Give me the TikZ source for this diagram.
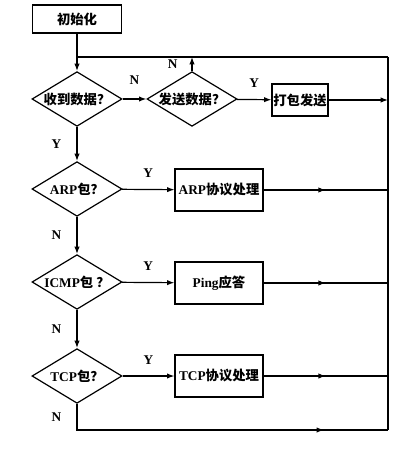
\documentclass[tikz,border=0pt]{standalone}
\usepackage{fontspec}
\setmainfont{Liberation Serif}
\newfontfamily\cjk{Noto Sans CJK SC}
\usetikzlibrary{positioning, arrows.meta, shapes.geometric, decorations.markings}

\begin{document}
\begin{tikzpicture}[
    x=0.75pt, y=-0.75pt,
    font=\bfseries,
    >={Latex[length=5.5pt, width=4pt]},
    line width=0.9pt,
    procstyle/.style={draw, rectangle, inner sep=0pt, align=center,
        minimum width=66pt, minimum height=31.5pt},
    decisionstyle/.style={draw, diamond, inner sep=0pt,
        minimum width=67.5pt, minimum height=41pt},
    flow/.style={->},
    midflow/.style={postaction={decorate}, decoration={markings,
        mark=at position #1 with {\arrow{Latex[length=5.5pt, width=4pt]}}}},
    midflow/.default=0.5,
    yn/.style={font=\bfseries}
  ]
    \useasboundingbox (0,0) rectangle (406,459);
    % main column
    \node[procstyle, minimum width=66.75pt, minimum height=21pt] (init) at (77,19) {\cjk 初始化};
    \node[decisionstyle, label=center:{\cjk 收到数据？}] (recv) at (77,99) {};
    \node[decisionstyle, label=center:{\cjk 发送数据？}] (send) at (192,99) {};
    \node[procstyle, minimum width=42pt, minimum height=24pt] (pack) at (300,100) {\cjk 打包发送};
    \node[decisionstyle, label=center:{ARP{\cjk 包？}}] (arp) at (77,189) {};
    \node[procstyle] (arpproc) at (219,190) {ARP{\cjk 协议处理}};
    \node[decisionstyle, label=center:{ICMP{\cjk 包 ？}}] (icmp) at (77,282) {};
    \node[procstyle] (ping) at (219,283) {Ping{\cjk 应答}};
    \node[decisionstyle, label=center:{TCP{\cjk 包？}}] (tcp) at (77,376) {};
    \node[procstyle] (tcpproc) at (219,376) {TCP{\cjk 协议处理}};
    % loop rail
    \coordinate (tl) at (77,57);
    \coordinate (tr) at (388,57);
    \coordinate (br) at (388,430);
    \draw (tr) -- (tl);
    \draw (tr) -- (br);
    \draw[flow] (init) -- (recv);
    \draw[flow] (recv) -- node[yn, above=7pt] {N} (send);
    \draw[flow] (send.north) -- node[yn, left=7pt] {N} (send.north |- tl);
    \draw[flow] (send) -- node[yn, above=5pt] {Y} (pack);
    \draw[flow] (pack) -- (pack -| tr);
    % packet type checks
    \draw[flow] (recv) -- node[yn, left=8pt] {Y} (arp);
    \draw[flow] (arp) -- node[yn, above=5pt] {Y} (arpproc);
    \draw[midflow] (arpproc) -- (arpproc -| tr);
    \draw[flow] (arp) -- node[yn, left=8pt] {N} (icmp);
    \draw[flow] (icmp) -- node[yn, above=5pt] {Y} (ping);
    \draw[midflow] (ping) -- (ping -| tr);
    \draw[flow] (icmp) -- node[yn, left=8pt] {N} (tcp);
    \draw[flow] (tcp) -- node[yn, above=5pt] {Y} (tcpproc);
    \draw[midflow] (tcpproc) -- (tcpproc -| tr);
    \draw[midflow=0.81] (tcp.south) |- node[yn, pos=0.25, left=8pt] {N} (br);
\end{tikzpicture}
\end{document}
